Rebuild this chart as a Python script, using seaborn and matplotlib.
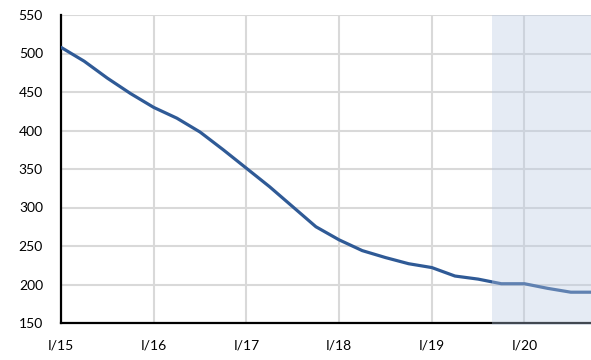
import matplotlib
matplotlib.use("Agg")
import matplotlib.pyplot as plt
import seaborn as sns
import pandas as pd

# Quarterly series, I/15 .. IV/20
quarters = [f"{q}/{y}" for y in range(15, 21) for q in ("I", "II", "III", "IV")]
values = [508, 490, 468, 448, 430, 416, 398, 375,
          351, 327, 301, 275, 258, 244, 235, 227,
          222, 211, 207, 201, 201, 195, 190, 190]
year_labels = ["I/15", "I/16", "I/17", "I/18", "I/19", "I/20"]
y_ticks = [150, 200, 250, 300, 350, 400, 450, 500, 550]
forecast_start = 18.6

df = pd.DataFrame({"pos": range(len(quarters)), "quarter": quarters, "value": values})

sns.set_theme(style="white")
plt.rcParams["font.family"] = ["Lato", "DejaVu Sans"]

fig = plt.figure(figsize=(5.91, 3.60), dpi=100)
ax = fig.add_axes([61 / 591, 1 - 323 / 360, 533 / 591, 308 / 360])

sns.lineplot(data=df, x="pos", y="value", ax=ax, color="#2F5A96",
             linewidth=2.3, zorder=3)

ax.set_xlim(0, len(quarters) - 1)
ax.set_ylim(150, 550)
ax.set_yticks(y_ticks)
ax.set_xticks([quarters.index(l) for l in year_labels])
ax.set_xticklabels(year_labels)
ax.set_xlabel("")
ax.set_ylabel("")

ax.grid(True, color="#d9d9d9", linewidth=1.5, zorder=0)
ax.set_axisbelow(True)
for s in ("top", "right"):
    ax.spines[s].set_visible(False)
for s in ("left", "bottom"):
    ax.spines[s].set_color("black")
    ax.spines[s].set_linewidth(1.6)

ax.tick_params(axis="both", length=0, labelsize=10, colors="black")
ax.tick_params(axis="y", pad=13)
ax.tick_params(axis="x", pad=12)

# translucent band over the forecast quarters
ax.axvspan(forecast_start, len(quarters) - 1, ymin=-0.006, ymax=1,
           color="#b8c9e2", alpha=0.36, linewidth=0, zorder=5, clip_on=False)

fig.savefig("out.png", dpi=100)
